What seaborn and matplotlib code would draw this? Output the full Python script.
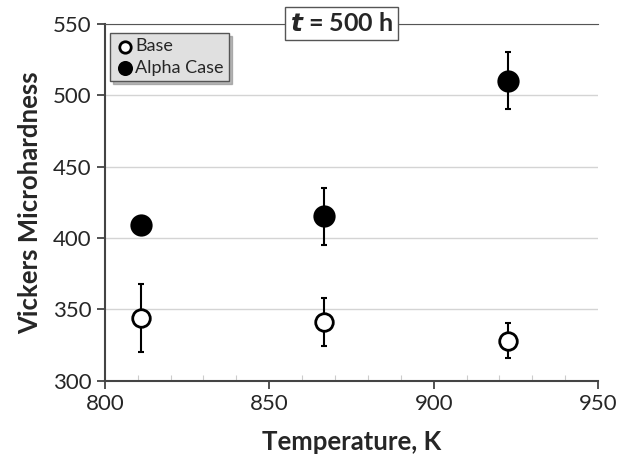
import pandas as pd
import matplotlib.pyplot as plt
import seaborn as sns

temps = [811, 866.5, 922.5]
base_hv = [344, 341, 328]
base_err = [24, 17, 12.5]
alpha_hv = [409, 415, 510]
alpha_err = [None, 20, 20]

sns.set_style("white")
plt.rcParams['font.family'] = ['Lato', 'DejaVu Sans']

df = pd.DataFrame({
    'Temperature': temps * 2,
    'HV': base_hv + alpha_hv,
    'err': base_err + alpha_err,
    'series': ['Base'] * 3 + ['Alpha Case'] * 3,
})

fig = plt.figure(figsize=(6.35, 4.59), dpi=100)
ax = fig.add_axes([0.165, 0.171, 0.777, 0.777])

# error bars first so markers sit on top
for name, sub in df.groupby('series'):
    sub = sub.dropna(subset=['err'])
    ax.errorbar(sub['Temperature'], sub['HV'], yerr=sub['err'], fmt='none',
                ecolor='black', elinewidth=1.5, capsize=2, capthick=1.5, zorder=2)

base = df[df['series'] == 'Base']
alpha = df[df['series'] == 'Alpha Case']
sns.scatterplot(data=base, x='Temperature', y='HV', ax=ax, s=160,
                facecolor='white', edgecolor='black', linewidth=2,
                label='Base', zorder=3)
sns.scatterplot(data=alpha, x='Temperature', y='HV', ax=ax, s=220,
                color='black', edgecolor='black', label='Alpha Case', zorder=3)

ax.set_xlim(800, 950)
ax.set_ylim(300, 550)
ax.set_xticks([800, 850, 900, 950])
ax.set_yticks([300, 350, 400, 450, 500, 550])
ax.set_xticks(range(810, 950, 10), minor=True)
ax.grid(axis='y', color='#d4d4d4', linewidth=1)
ax.set_axisbelow(True)

ax.spines['right'].set_visible(False)
ax.spines['top'].set_color('#555555')
ax.spines['left'].set_color('#444444')
ax.spines['bottom'].set_color('#444444')
ax.spines['left'].set_linewidth(1.5)
ax.spines['bottom'].set_linewidth(1.5)

ax.tick_params(axis='both', which='major', direction='out', length=6, width=1.3,
               color='#444444', labelsize=16, bottom=True, left=True)
ax.tick_params(axis='x', which='minor', direction='in', length=4, width=0.8,
               color='#cccccc', bottom=True)

ax.set_xlabel('Temperature, K', fontsize=18.5, fontweight='bold', labelpad=12)
ax.set_ylabel('Vickers Microhardness', fontsize=18.5, fontweight='bold', labelpad=8)

leg = ax.legend(loc='upper left', bbox_to_anchor=(0.0, 0.99), fontsize=13,
                frameon=True, fancybox=False, handletextpad=0.1,
                borderpad=0.3, labelspacing=0.3, handlelength=1.0,
                markerscale=0.65, borderaxespad=0.3,
                shadow={'color': '#888888', 'alpha': 0.6})
leg.get_frame().set_facecolor('#e0e0e0')
leg.get_frame().set_edgecolor('#555555')
leg.get_frame().set_linewidth(1)

ax.text(0.479, 1.0, r'$\mathbfit{t}$ = 500 h', transform=ax.transAxes,
        ha='center', va='center', fontsize=18, fontweight='bold',
        bbox=dict(boxstyle='square,pad=0.2', facecolor='white',
                  edgecolor='#555555', linewidth=1), zorder=5)

fig.savefig('out.png', dpi=100)
